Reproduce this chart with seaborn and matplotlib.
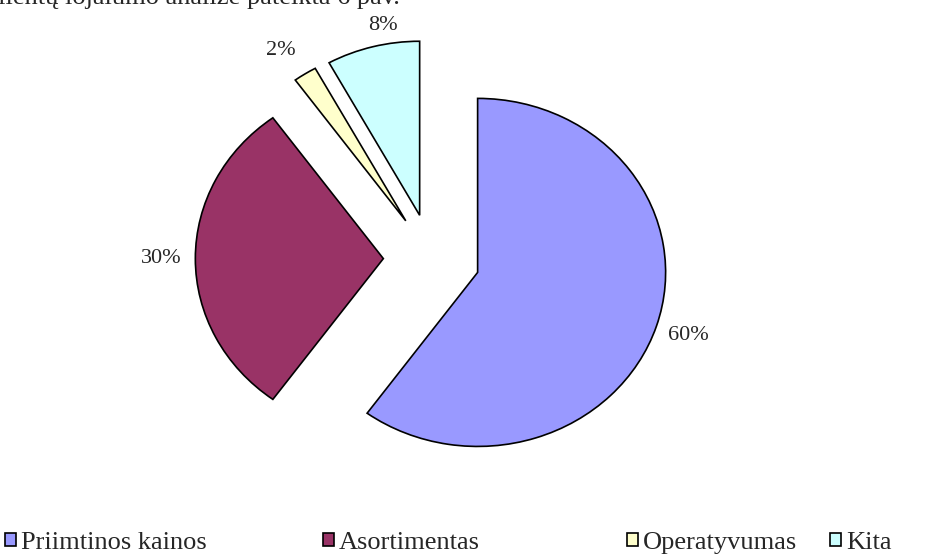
import matplotlib
matplotlib.use("Agg")
import matplotlib.pyplot as plt
import seaborn as sns

# white background, no grid
sns.set_style("white")
plt.rcParams["font.family"] = ["Liberation Serif", "DejaVu Serif"]

# data
labels = ["Priimtinos kainos", "Asortimentas", "Operatyvumas", "Kita"]
shares = [60, 30, 2, 8]
colors = ["#9999FF", "#993366", "#FFFFCC", "#CCFFFF"]

fig = plt.figure(figsize=(9.47, 5.56), dpi=100)
ax = fig.add_axes([0, 0, 1, 1])

# every slice pulled out from the centre, first slice starts at 12 o'clock going clockwise
wedges, texts, autotexts = ax.pie(
    shares, colors=colors, startangle=90, counterclock=False,
    explode=[0.257] * len(shares), autopct="%1.0f%%", pctdistance=1.18,
    wedgeprops=dict(edgecolor="black", linewidth=1.2),
    textprops=dict(fontsize=16))

# small nudges of the two top labels (Excel puts them a bit differently)
nudges = {2: (-0.03, -0.02), 3: (0.10, -0.05)}
for i, (dx, dy) in nudges.items():
    px, py = autotexts[i].get_position()
    autotexts[i].set_position((px + dx, py + dy))

# stretched pie (wider than tall), like the original
ax.set_aspect("auto")
ax.set_xlim(-2.296, 2.741)
ax.set_ylim(-1.709, 1.486)
ax.axis("off")

# legend entries laid out along the bottom edge
legend_x = [5, 323, 627, 830]
for w, lab, x in zip(wedges, labels, legend_x):
    fig.legend(handles=[w], labels=[lab], loc="center left",
               bbox_to_anchor=(x / 947, 1 - 543 / 556), frameon=False,
               borderpad=0, borderaxespad=0, handlelength=0.4,
               handleheight=0.4, handletextpad=0.2, fontsize=19)

# clipped line of the surrounding document text
fig.text(400 / 947, 1 - 4 / 556, "Klientų lojalumo analizė pateikta 6 pav.",
         ha="right", va="baseline", fontsize=19)

fig.savefig("out.png", dpi=100)
